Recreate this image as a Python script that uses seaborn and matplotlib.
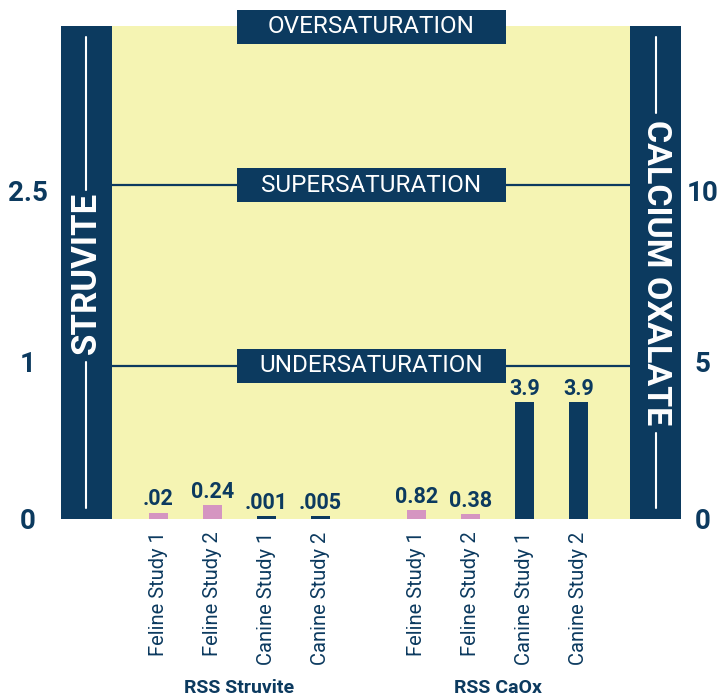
import matplotlib
matplotlib.use("Agg")
import matplotlib.pyplot as plt
import matplotlib.transforms as mtransforms
from matplotlib.patches import Rectangle
import seaborn as sns
import pandas as pd
import numpy as np

# data
groups = ["RSS Struvite", "RSS CaOx"]
studies = ["Feline Study 1", "Feline Study 2", "Canine Study 1", "Canine Study 2"]
struvite_labels = [".02", "0.24", ".001", ".005"]
caox_labels = ["0.82", "0.38", "3.9", "3.9"]
# drawn bar heights, in units of the right (CaOx) axis
struvite_heights = [0.21, 0.46, 0.1, 0.1]
caox_heights = [0.3, 0.17, 3.82, 3.82]
species = ["feline", "feline", "canine", "canine"]

# saturation zones: boundary levels on the CaOx axis
zone_names = ["UNDERSATURATION", "SUPERSATURATION", "OVERSATURATION"]
zone_levels = [5.0, 10.9, 16.08]
tick_levels = [0, 5.16, 10.75]
left_ticks = ["0", "1", "2.5"]
right_ticks = ["0", "5", "10"]

NAVY = "#0c3a5f"
YELLOW = "#f5f4b3"
PINK = "#d595c1"
YMAX = 16.11

sns.set_theme(style="white")
plt.rcParams["font.family"] = ["Roboto", "DejaVu Sans"]

group_gap = 1.78
xpos = list(range(4)) + [3 + group_gap + i for i in range(4)]
df = pd.DataFrame({
    "x": xpos,
    "height": struvite_heights + caox_heights,
    "kind": species + species,
    "label": struvite_labels + caox_labels,
    "study": studies + studies,
})

fig = plt.figure(figsize=(7.17, 7.0), dpi=100)
ax = fig.add_axes([0.1562, 0.2586, 0.7225, 0.7043])
ax.set_facecolor(YELLOW)

sns.barplot(data=df, x="x", y="height", hue="kind", native_scale=True,
            palette={"feline": PINK, "canine": NAVY}, width=0.35,
            dodge=False, legend=False, saturation=1, ax=ax)
for p in ax.patches:
    p.set_edgecolor("none")

for s in ax.spines.values():
    s.set_visible(False)

# value labels above the bars
for _, r in df.iterrows():
    ax.annotate(r["label"], (r["x"], r["height"]), xytext=(0, 1.5),
                textcoords="offset points", ha="center", va="bottom",
                color=NAVY, fontsize=15.5, fontweight="bold")

# x tick labels
ax.set_xticks(df["x"])
ax.set_xticklabels(df["study"], rotation=90, color=NAVY, fontsize=14.5, va="top")
ax.tick_params(axis="x", length=0, pad=9)
ax.set_xlabel("")
ax.set_ylabel("")

# y ticks, left (struvite) and right (CaOx)
ax.set_yticks(tick_levels)
ax.set_yticklabels(left_ticks, ha="center", color=NAVY, fontsize=20, fontweight="bold")
ax.tick_params(axis="y", length=0, pad=60.5)
ax.set_xlim(-0.861, 8.731)
ax.set_ylim(0, YMAX)
ax2 = ax.twinx()
ax2.set_yticks(tick_levels)
ax2.set_yticklabels(right_ticks, ha="center", color=NAVY, fontsize=20, fontweight="bold")
ax2.tick_params(axis="y", length=0, pad=52)
ax2.set_ylim(0, YMAX)
for s in ax2.spines.values():
    s.set_visible(False)
ax2.grid(False)
ax.grid(False)

# group labels
bt = mtransforms.blended_transform_factory(ax.transData, ax.transAxes)
for g, xs in zip(groups, [xpos[:4], xpos[4:]]):
    ax.text(np.mean(xs), -0.343, g, transform=bt, ha="center", va="center",
            color=NAVY, fontsize=14, fontweight="bold")

# zone boundary lines and label boxes
by = mtransforms.blended_transform_factory(ax.transAxes, ax.transData)
for lvl in zone_levels[:2]:
    ax.axhline(lvl, color=NAVY, lw=1.6, zorder=1)
box_h = 34 / 30.6
for name, lvl in zip(zone_names, zone_levels):
    ax.add_patch(Rectangle((0.2413, lvl - box_h / 2), 0.5193, box_h, transform=by,
                           facecolor=NAVY, edgecolor="none", clip_on=False, zorder=3))
    ax.text(0.501, lvl, name, transform=by, ha="center", va="center",
            color="white", fontsize=17.5, zorder=4)

# side panels
for x0, title, rot, size, tops in [(-0.0985, "STRUVITE", 90, 25, (0.667, 0.318)),
                                   (1.0, "CALCIUM OXALATE", -90, 24.5, (0.824, 0.174))]:
    ax.add_patch(Rectangle((x0, 0), 0.0985, 1, transform=ax.transAxes,
                           facecolor=NAVY, edgecolor="none", clip_on=False, zorder=3))
    xc = x0 + 0.0985 / 2
    ax.text(xc, 0.5, title, transform=ax.transAxes, rotation=rot, ha="center",
            va="center", color="white", fontsize=size, fontweight="bold", zorder=4)
    ax.plot([xc, xc], [0.978, tops[0]], transform=ax.transAxes, color="white",
            lw=1.5, clip_on=False, zorder=4)
    ax.plot([xc, xc], [tops[1], 0.022], transform=ax.transAxes, color="white",
            lw=1.5, clip_on=False, zorder=4)

fig.savefig("out.png", dpi=100, facecolor="white")
